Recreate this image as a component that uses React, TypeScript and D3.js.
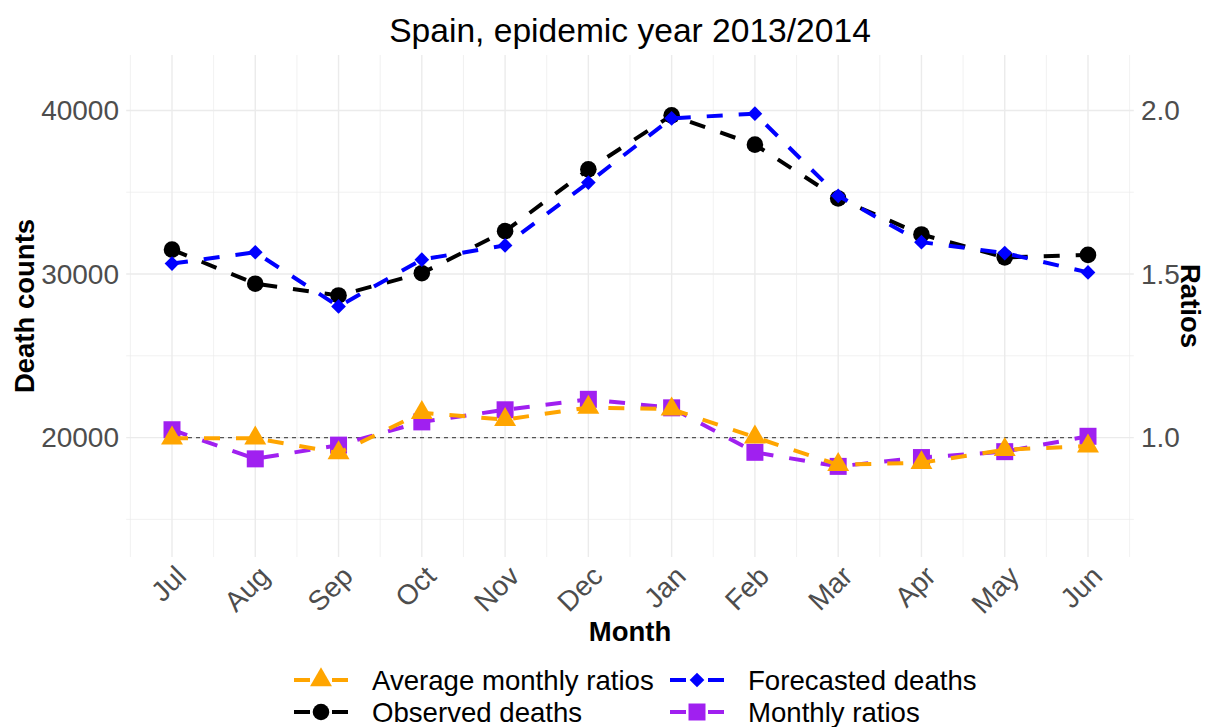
import React from "react";
import * as d3 from "d3";

const months = ["Jul", "Aug", "Sep", "Oct", "Nov", "Dec", "Jan", "Feb", "Mar", "Apr", "May", "Jun"];
const observedDeaths = [31490, 29410, 28690, 30050, 32620, 36400, 39700, 37910, 34620, 32420, 31020, 31170];
const forecastedDeaths = [30640, 31330, 28020, 30880, 31750, 35590, 39520, 39800, 34780, 31950, 31280, 30100];
const monthlyRatios = [1.024, 0.935, 0.977, 1.048, 1.085, 1.117, 1.091, 0.955, 0.912, 0.939, 0.957, 1.004];
const avgMonthlyRatios = [0.998, 0.998, 0.953, 1.076, 1.055, 1.092, 1.087, 1.001, 0.917, 0.923, 0.963, 0.974];
const deathTicks = [20000, 30000, 40000];
const ratioTicks = [1.0, 1.5, 2.0];

const W = 1206;
const H = 727;
const FONT = "'Liberation Sans', Arial, sans-serif";
const SCALE_FACTOR = 20000; // ratio axis = deaths / 20000

const x = d3.scaleLinear().domain([0.45, 12.55]).range([126.2, 1133.8]);
const y = d3.scaleLinear().domain([12700, 43390]).range([557, 55]);
const yRatio = d3
  .scaleLinear()
  .domain(y.domain().map((d) => d / SCALE_FACTOR))
  .range(y.range());

type Shape = "circle" | "diamond" | "square" | "triangle";

const symbolPath = (shape: Shape) => {
  if (shape === "circle") return d3.symbol(d3.symbolCircle, 216)()!;
  if (shape === "square") return d3.symbol(d3.symbolSquare, 289)()!;
  if (shape === "triangle") return d3.symbol(d3.symbolTriangle, 208)()!;
  return d3.symbol(d3.symbolSquare, 108)()!;
};

const series = [
  { name: "Observed deaths", values: observedDeaths, color: "#000000", shape: "circle" as Shape },
  { name: "Forecasted deaths", values: forecastedDeaths, color: "#0000FF", shape: "diamond" as Shape },
  { name: "Monthly ratios", values: monthlyRatios.map((r) => r * SCALE_FACTOR), color: "#A020F0", shape: "square" as Shape },
  { name: "Average monthly ratios", values: avgMonthlyRatios.map((r) => r * SCALE_FACTOR), color: "#FFA500", shape: "triangle" as Shape },
];

const legendItems = [
  { name: "Average monthly ratios", color: "#FFA500", shape: "triangle" as Shape, kx: 294, row: 0 },
  { name: "Forecasted deaths", color: "#0000FF", shape: "diamond" as Shape, kx: 670, row: 0 },
  { name: "Observed deaths", color: "#000000", shape: "circle" as Shape, kx: 294, row: 1 },
  { name: "Monthly ratios", color: "#A020F0", shape: "square" as Shape, kx: 670, row: 1 },
];

const Marker = ({ shape, color, cx, cy }: { shape: Shape; color: string; cx: number; cy: number }) => (
  <path
    d={symbolPath(shape)}
    fill={color}
    transform={`translate(${cx},${cy})${shape === "diamond" ? " rotate(45)" : ""}`}
  />
);

const App = () => {
  const [x0, x1] = x.range();
  const [yb, yt] = y.range();
  const line = d3
    .line<number>()
    .x((_, i) => x(i + 1))
    .y((d) => y(d));

  const majorX = d3.range(1, 13);
  const minorX = d3.range(0.5, 13, 1);
  const majorY = deathTicks;
  const minorY = [15000, 25000, 35000];

  return (
    <svg
      width={W}
      height={H}
      style={{ position: "absolute", left: 0, top: 0, background: "#fff" }}
      fontFamily={FONT}
    >
      {/* grid */}
      <g>
        {minorY.map((v) => (
          <line key={"my" + v} x1={x0} x2={x1} y1={y(v)} y2={y(v)} stroke="#EBEBEB" strokeWidth={0.7} />
        ))}
        {minorX.map((v) => (
          <line key={"mx" + v} x1={x(v)} x2={x(v)} y1={yb} y2={yt} stroke="#EBEBEB" strokeWidth={0.7} />
        ))}
        {majorY.map((v) => (
          <line key={"gy" + v} x1={x0} x2={x1} y1={y(v)} y2={y(v)} stroke="#EBEBEB" strokeWidth={1.4} />
        ))}
        {majorX.map((v) => (
          <line key={"gx" + v} x1={x(v)} x2={x(v)} y1={yb} y2={yt} stroke="#EBEBEB" strokeWidth={1.4} />
        ))}
      </g>

      {/* reference line at ratio 1 */}
      <line
        x1={x(1)}
        x2={x(12)}
        y1={yRatio(1)}
        y2={yRatio(1)}
        stroke="#555"
        strokeWidth={1.3}
        strokeDasharray="4 4"
      />

      {/* series */}
      {series.map((s) => (
        <g key={s.name}>
          <path
            d={line(s.values)!}
            fill="none"
            stroke={s.color}
            strokeWidth={4}
            strokeDasharray="16 16"
          />
          {s.values.map((v, i) => (
            <Marker key={i} shape={s.shape} color={s.color} cx={x(i + 1)} cy={y(v)} />
          ))}
        </g>
      ))}

      {/* left axis */}
      {deathTicks.map((t) => (
        <text key={"l" + t} x={119} y={y(t)} dy="0.35em" textAnchor="end" fontSize={28} fill="#4D4D4D">
          {t}
        </text>
      ))}
      {/* right axis */}
      {ratioTicks.map((t) => (
        <text key={"r" + t} x={1141} y={yRatio(t)} dy="0.35em" textAnchor="start" fontSize={28} fill="#4D4D4D">
          {d3.format(".1f")(t)}
        </text>
      ))}
      {/* month labels */}
      {months.map((m, i) => (
        <text
          key={m}
          transform={`translate(${x(i + 1) + 9},${571}) rotate(-45)`}
          dy="0.35em"
          textAnchor="end"
          fontSize={28}
          fill="#4D4D4D"
        >
          {m}
        </text>
      ))}

      {/* titles */}
      <text x={(x0 + x1) / 2} y={42} textAnchor="middle" fontSize={33.6} fill="#000">
        Spain, epidemic year 2013/2014
      </text>
      <text x={(x0 + x1) / 2} y={641} textAnchor="middle" fontSize={27.5} fontWeight="bold" fill="#000">
        Month
      </text>
      <text
        transform={`translate(24,${(yb + yt) / 2}) rotate(-90)`}
        dy="0.35em"
        textAnchor="middle"
        fontSize={27.5}
        fontWeight="bold"
        fill="#000"
      >
        Death counts
      </text>
      <text
        transform={`translate(1191,${(yb + yt) / 2}) rotate(90)`}
        dy="0.35em"
        textAnchor="middle"
        fontSize={27.5}
        fontWeight="bold"
        fill="#000"
      >
        Ratios
      </text>

      {/* legend */}
      {legendItems.map((it) => {
        const cy = 680 + it.row * 32;
        const cx = it.kx + 27;
        return (
          <g key={it.name}>
            <line x1={it.kx} x2={it.kx + 16} y1={cy} y2={cy} stroke={it.color} strokeWidth={4} />
            <line x1={it.kx + 38} x2={it.kx + 54} y1={cy} y2={cy} stroke={it.color} strokeWidth={4} />
            <Marker shape={it.shape} color={it.color} cx={cx} cy={cy} />
            <text x={it.kx + 78} y={cy} dy="0.35em" fontSize={27.6} fill="#000">
              {it.name}
            </text>
          </g>
        );
      })}
    </svg>
  );
};

export default App;
